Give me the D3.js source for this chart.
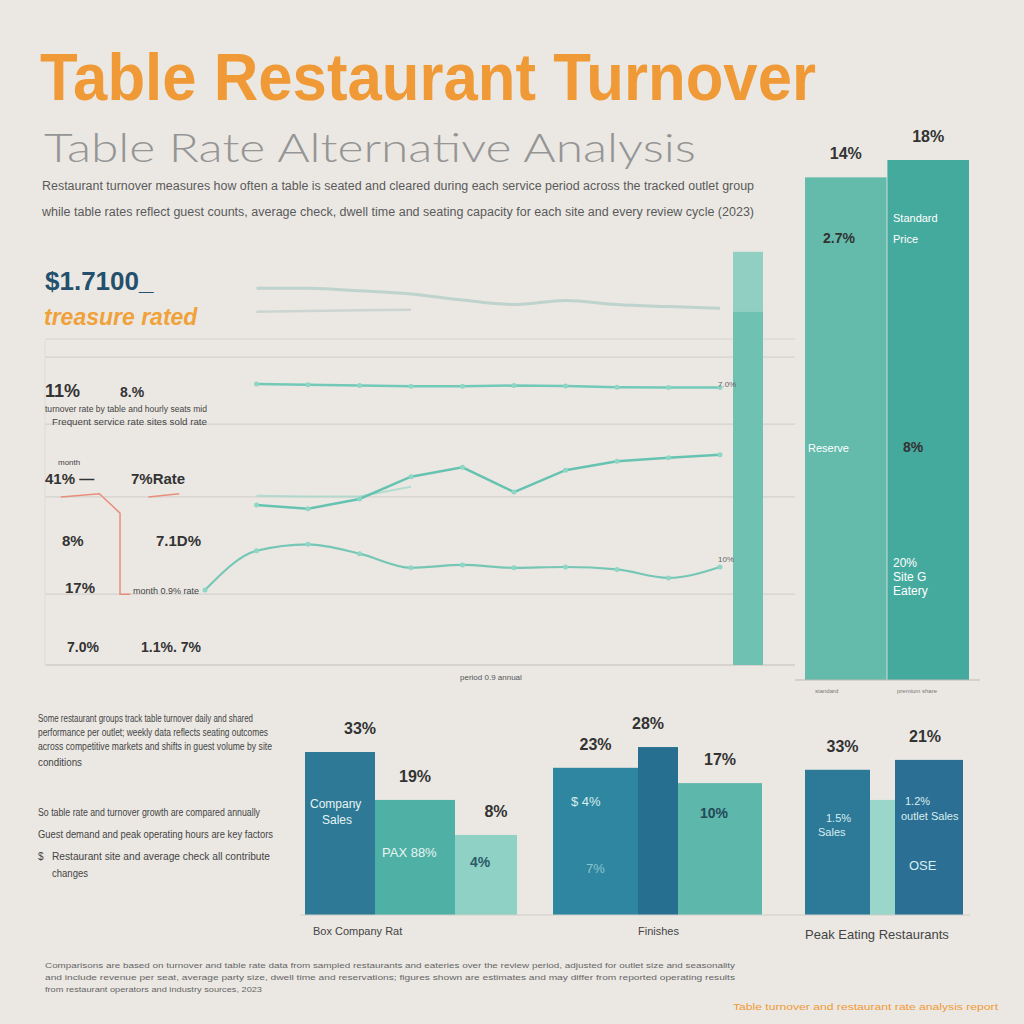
<!DOCTYPE html>
<html>
<head>
<meta charset="utf-8">
<script src="https://cdnjs.cloudflare.com/ajax/libs/d3/7.8.5/d3.min.js"></script>
<style>
  body { margin: 0; background: #ebe8e3; }
  text { font-family: "Liberation Sans", Arial, sans-serif; }
</style>
</head>
<body>
<div id="area1"></div>
<script>
// line chart data (period index, value)
var periods = [0, 2, 4, 6, 8, 10, 12, 14, 16, 18, 20];
var topLine = [null, 93.0, 93.0, 92.4, 91.6, 90.1, 89.0, 90.0, 89.0, 88.5, 88.1];
var topShadow = [null, 87.2, 87.4, 87.6, 87.7, null, null, null, null, null, null];
var flatLine = [null, 69.4, 69.2, 69.0, 68.8, 68.8, 69.0, 68.9, 68.6, 68.5, 68.5];
var waveLine = [null, 39.5, 38.6, 41.0, 46.5, 48.8, 42.7, 48.1, 50.3, 51.2, 51.9];
var waveShadow = [null, 41.8, 41.6, 41.6, 44.0, null, null, null, null, null, null];
var lowLine = [18.5, 28.2, 29.8, 27.5, 24.0, 24.7, 24.0, 24.2, 23.6, 21.5, 24.2];
var panelBar = 102;

// right side comparison bars
var sideCats = ["Standard", "Premium"];
var sideValues = [17.4, 18];
var sideLabels = ["14%", "18%"];

// bottom grouped bars
var groupNames = ["Box Company Rat", "Finishes", "Peak Eating Restaurants"];
var groupValues = [[33, 23.3, 16.2], [29.8, 34, 26.7], [29.4, 23.3, 31.4]];
var groupLabels = [["33%", "19%", "8%"], ["23%", "28%", "17%"], ["33%", "", "21%"]];
var groupColors = [["#2d7996", "#4fb0a5", "#8fd2c5"], ["#2f86a0", "#276f90", "#5db7ab"], ["#2c7998", "#9ad6ca", "#2b6f94"]];
var groupWidths = [[70, 80, 62], [85, 40, 84], [65, 25, 68]];

var width = 1024, height = 1024;

window.onload = function() {

  var svg = d3.select("#area1")
    .append("svg")
    .attr("width", width)
    .attr("height", height);

  svg.append("rect").attr("width", width).attr("height", height).attr("fill", "#ebe8e3");

  // title block
  svg.append("text").attr("x", 40).attr("y", 100)
    .attr("font-size", 66).attr("font-weight", "bold").attr("fill", "#ef9a36")
    .attr("textLength", 776).attr("lengthAdjust", "spacingAndGlyphs")
    .text("Table Restaurant Turnover");

  svg.append("text").attr("x", 44).attr("y", 162)
    .attr("font-size", 40).attr("font-weight", 300).attr("fill", "#959595")
    .style("font-family", "Lato, 'Open Sans', sans-serif")
    .attr("textLength", 652).attr("lengthAdjust", "spacingAndGlyphs")
    .text("Table Rate Alternative Analysis");

  var intro = [
    "Restaurant turnover measures how often a table is seated and cleared during each service period across the tracked outlet group",
    "while table rates reflect guest counts, average check, dwell time and seating capacity for each site and every review cycle (2023)"
  ];
  svg.selectAll(".intro").data(intro).enter().append("text")
    .attr("class", "intro")
    .attr("x", 42).attr("y", function(d, i) { return 190 + i * 26; })
    .attr("font-size", 12).attr("fill", "#5a5a5a")
    .attr("textLength", 712).attr("lengthAdjust", "spacingAndGlyphs")
    .text(function(d) { return d; });

  // line chart panel
  var x = d3.scaleLinear().domain([0, 20]).range([205, 720]);
  var y = d3.scaleLinear().domain([0, 100]).range([665, 260]);

  var gridVals = [80.5, 76, 59.5, 41.5, 17.5];
  svg.selectAll(".grid").data(gridVals).enter().append("line")
    .attr("x1", 45).attr("x2", 795)
    .attr("y1", function(d) { return y(d); }).attr("y2", function(d) { return y(d); })
    .attr("stroke", "#d4d2ce").attr("stroke-width", 1.2);

  svg.append("line").attr("x1", 45).attr("x2", 795).attr("y1", y(0)).attr("y2", y(0))
    .attr("stroke", "#cfcdc9").attr("stroke-width", 1.5);
  svg.append("line").attr("x1", 45).attr("x2", 45).attr("y1", y(80)).attr("y2", y(0))
    .attr("stroke", "#dedcd8");

  svg.append("rect")
    .attr("x", 733).attr("width", 30)
    .attr("y", y(panelBar)).attr("height", y(0) - y(panelBar))
    .attr("fill", "#6fc1b1");
  svg.append("rect")
    .attr("x", 733).attr("width", 30)
    .attr("y", y(panelBar)).attr("height", 60)
    .attr("fill", "#a9d9cf").attr("opacity", 0.6);

  var line = d3.line()
    .defined(function(d) { return d[1] !== null; })
    .x(function(d) { return x(d[0]); })
    .y(function(d) { return y(d[1]); });

  function zip(vals) { return periods.map(function(p, i) { return [p, vals[i]]; }); }

  var series = [
    { vals: topLine, color: "#b3cdc7", w: 3, op: 0.8, c: d3.curveMonotoneX },
    { vals: topShadow, color: "#c4cfcc", w: 2.5, op: 0.8, c: d3.curveLinear },
    { vals: flatLine, color: "#72c9b8", w: 2.5, op: 1, c: d3.curveLinear },
    { vals: waveShadow, color: "#a7d8cd", w: 2, op: 0.8, c: d3.curveLinear },
    { vals: waveLine, color: "#66c3b1", w: 2.5, op: 1, c: d3.curveLinear },
    { vals: lowLine, color: "#76c6b6", w: 2.2, op: 1, c: d3.curveMonotoneX }
  ];

  svg.selectAll(".series").data(series).enter().append("path")
    .attr("class", "series")
    .attr("d", function(d) { return line.curve(d.c)(zip(d.vals)); })
    .attr("fill", "none")
    .attr("stroke", function(d) { return d.color; })
    .attr("stroke-width", function(d) { return d.w; })
    .attr("opacity", function(d) { return d.op; });

  [flatLine, waveLine, lowLine].forEach(function(vals) {
    svg.selectAll(null).data(zip(vals).filter(function(d) { return d[1] !== null; })).enter()
      .append("circle")
      .attr("cx", function(d) { return x(d[0]); })
      .attr("cy", function(d) { return y(d[1]); })
      .attr("r", 2.5)
      .attr("fill", "#8fd6c6");
  });

  // red bracket on the left
  var bracket = [[-5.6, 41.5], [-4.1, 42.3], [-3.3, 37.5], [-3.3, 17.5], [-2.9, 17.5]];
  var bracket2 = [[-2.2, 41.5], [-1.0, 42.3]];
  var lineLin = d3.line().x(function(d) { return x(d[0]); }).y(function(d) { return y(d[1]); });
  [bracket, bracket2].forEach(function(b) {
    svg.append("path").attr("d", lineLin(b)).attr("fill", "none")
      .attr("stroke", "#e88e7c").attr("stroke-width", 1.5);
  });

  // left annotations
  svg.append("text").attr("x", 45).attr("y", 290).attr("font-size", 26).attr("font-weight", "bold")
    .attr("fill", "#24506e").text("$1.7100_");
  svg.append("text").attr("x", 44).attr("y", 325).attr("font-size", 23).attr("font-weight", "bold")
    .attr("font-style", "italic").attr("fill", "#f0a23a").text("treasure rated");

  var notes = [
    { t: "11%", x: 45, y: 397, s: 18, c: "#333" },
    { t: "8.%", x: 120, y: 397, s: 14, c: "#333" },
    { t: "turnover rate by table and hourly seats mid", x: 45, y: 412, s: 8.5, c: "#444", l: 162 },
    { t: "Frequent service rate  sites  sold rate", x: 52, y: 425, s: 8.5, c: "#444", l: 155 },
    { t: "month", x: 58, y: 465, s: 8, c: "#444" },
    { t: "41% \u2014", x: 45, y: 484, s: 15, c: "#333" },
    { t: "7%Rate", x: 131, y: 484, s: 15, c: "#333" },
    { t: "8%", x: 62, y: 546, s: 15, c: "#333" },
    { t: "7.1D%", x: 156, y: 546, s: 15, c: "#333" },
    { t: "17%", x: 65, y: 593, s: 15, c: "#333" },
    { t: "month 0.9% rate", x: 133, y: 594, s: 9, c: "#444" },
    { t: "7.0%", x: 67, y: 652, s: 14, c: "#333" },
    { t: "1.1%. 7%", x: 141, y: 652, s: 14, c: "#333" },
    { t: "period  0.9 annual", x: 460, y: 680, s: 8, c: "#555" },
    { t: "7.0%", x: 718, y: 387, s: 8, c: "#666" },
    { t: "10%", x: 718, y: 562, s: 8, c: "#666" }
  ];
  svg.selectAll(".note").data(notes).enter().append("text")
    .attr("class", "note")
    .attr("x", function(d) { return d.x; }).attr("y", function(d) { return d.y; })
    .attr("font-size", function(d) { return d.s; })
    .attr("fill", function(d) { return d.c; })
    .attr("font-weight", function(d) { return d.s > 12 ? "bold" : "normal"; })
    .each(function(d) {
      if (d.l) d3.select(this).attr("textLength", d.l).attr("lengthAdjust", "spacingAndGlyphs");
    })
    .text(function(d) { return d.t; });

  // right comparison bars
  var sx = d3.scaleBand().domain(sideCats).range([805, 969]).paddingInner(0.01);
  var sy = d3.scaleLinear().domain([0, 18]).range([680, 160]);
  var sideColors = ["#64bbac", "#45aa9e"];
  svg.selectAll(".side").data(sideValues).enter().append("rect")
    .attr("class", "side")
    .attr("x", function(d, i) { return sx(sideCats[i]); })
    .attr("width", sx.bandwidth())
    .attr("y", function(d) { return sy(d); })
    .attr("height", function(d) { return 680 - sy(d); })
    .attr("fill", function(d, i) { return sideColors[i]; });
  svg.selectAll(".sideLab").data(sideLabels).enter().append("text")
    .attr("x", function(d, i) { return sx(sideCats[i]) + sx.bandwidth() / 2; })
    .attr("y", function(d, i) { return sy(sideValues[i]) - 18; })
    .attr("text-anchor", "middle").attr("font-size", 16).attr("font-weight", "bold")
    .attr("fill", "#333").text(function(d) { return d; });
  svg.append("line").attr("x1", 795).attr("x2", 980).attr("y1", 680).attr("y2", 680)
    .attr("stroke", "#bdbbb7");

  var sideNotes = [
    { t: "2.7%", x: 823, y: 243, c: "#333", s: 14, b: true },
    { t: "Standard", x: 893, y: 222, c: "#fff", s: 11 },
    { t: "Price", x: 893, y: 243, c: "#fff", s: 11 },
    { t: "Reserve", x: 808, y: 452, c: "#fff", s: 11 },
    { t: "8%", x: 903, y: 452, c: "#333", s: 14, b: true },
    { t: "20%", x: 893, y: 567, c: "#fff", s: 12 },
    { t: "Site G", x: 893, y: 581, c: "#fff", s: 12 },
    { t: "Eatery", x: 893, y: 595, c: "#fff", s: 12 },
    { t: "standard", x: 815, y: 693, c: "#777", s: 6 },
    { t: "premium share", x: 897, y: 693, c: "#777", s: 6 }
  ];
  svg.selectAll(".sideNote").data(sideNotes).enter().append("text")
    .attr("x", function(d) { return d.x; }).attr("y", function(d) { return d.y; })
    .attr("font-size", function(d) { return d.s; })
    .attr("font-weight", function(d) { return d.b ? "bold" : "normal"; })
    .attr("fill", function(d) { return d.c; }).text(function(d) { return d.t; });

  // bottom grouped bars
  var gx = [305, 553, 805];
  var gy = d3.scaleLinear().domain([0, 33]).range([915, 752]);
  var labShift = [[20, 0, 10], [0, -10, 0], [5, 0, -4]];
  groupValues.forEach(function(vals, g) {
    var offs = [0];
    groupWidths[g].forEach(function(w, i) { offs.push(offs[i] + w); });
    var grp = svg.append("g").attr("transform", "translate(" + gx[g] + ",0)");
    grp.selectAll("rect").data(vals).enter().append("rect")
      .attr("x", function(d, i) { return offs[i]; })
      .attr("width", function(d, i) { return groupWidths[g][i]; })
      .attr("y", function(d) { return gy(d); })
      .attr("height", function(d) { return 915 - gy(d); })
      .attr("fill", function(d, i) { return groupColors[g][i]; });
    grp.selectAll(".lab").data(vals).enter().append("text")
      .attr("x", function(d, i) { return offs[i] + groupWidths[g][i] / 2 + labShift[g][i]; })
      .attr("y", function(d) { return gy(d) - 18; })
      .attr("text-anchor", "middle").attr("font-size", 16).attr("font-weight", "bold")
      .attr("fill", "#333").text(function(d, i) { return groupLabels[g][i]; });
  });
  svg.append("line").attr("x1", 300).attr("x2", 970).attr("y1", 915).attr("y2", 915)
    .attr("stroke", "#cfcdc9");

  var inner = [
    { t: "Company", x: 310, y: 808, c: "#e8f4f3", s: 12 },
    { t: "Sales", x: 322, y: 824, c: "#e8f4f3", s: 12 },
    { t: "PAX 88%", x: 382, y: 857, c: "#e8f4f3", s: 13 },
    { t: "4%", x: 470, y: 867, c: "#2d5a6a", s: 14, b: true },
    { t: "$ 4%", x: 571, y: 806, c: "#d8eeee", s: 13 },
    { t: "7%", x: 586, y: 873, c: "#8cc4cc", s: 13 },
    { t: "10%", x: 700, y: 818, c: "#24485a", s: 14, b: true },
    { t: "1.5%", x: 826, y: 822, c: "#d8eeee", s: 11 },
    { t: "Sales", x: 818, y: 836, c: "#d8eeee", s: 11 },
    { t: "1.2%", x: 905, y: 805, c: "#d8eeee", s: 11 },
    { t: "outlet Sales", x: 901, y: 820, c: "#d8eeee", s: 11 },
    { t: "OSE", x: 909, y: 870, c: "#d8eeee", s: 13 }
  ];
  svg.selectAll(".inner").data(inner).enter().append("text")
    .attr("x", function(d) { return d.x; }).attr("y", function(d) { return d.y; })
    .attr("font-size", function(d) { return d.s; })
    .attr("font-weight", function(d) { return d.b ? "bold" : "normal"; })
    .attr("fill", function(d) { return d.c; }).text(function(d) { return d.t; });

  var catPos = [[313, 935], [638, 935], [805, 939]];
  svg.selectAll(".cat").data(groupNames).enter().append("text")
    .attr("x", function(d, i) { return catPos[i][0]; }).attr("y", function(d, i) { return catPos[i][1]; })
    .attr("font-size", function(d, i) { return i === 2 ? 13 : 11; })
    .attr("fill", "#444").text(function(d) { return d; });

  // left text block
  var block = [
    { t: "Some restaurant groups track table turnover daily and shared", y: 722, l: 215 },
    { t: "performance per outlet; weekly data reflects seating outcomes", y: 736, l: 230 },
    { t: "across competitive markets and shifts in guest volume by site", y: 750, l: 234 },
    { t: "conditions", y: 766, l: 44 },
    { t: "So table rate and turnover growth are compared annually", y: 816, l: 222 },
    { t: "Guest demand and peak operating hours are key factors", y: 838, l: 235 },
    { t: "Restaurant site and average check all contribute", y: 860, l: 218, x: 52 },
    { t: "changes", y: 877, l: 36, x: 52 }
  ];
  svg.selectAll(".block").data(block).enter().append("text")
    .attr("x", function(d) { return d.x || 38; }).attr("y", function(d) { return d.y; })
    .attr("font-size", 10).attr("fill", "#444")
    .attr("textLength", function(d) { return d.l; }).attr("lengthAdjust", "spacingAndGlyphs")
    .text(function(d) { return d.t; });
  svg.append("text").attr("x", 38).attr("y", 860).attr("font-size", 10).attr("fill", "#444").text("$");

  // footer
  var foot = [
    "Comparisons are based on turnover and table rate data from sampled restaurants and eateries over the review period, adjusted for outlet size and seasonality",
    "and include revenue per seat, average party size, dwell time and reservations; figures shown are estimates and may differ from reported operating results",
    "from restaurant operators and industry sources, 2023"
  ];
  svg.selectAll(".foot").data(foot).enter().append("text")
    .attr("x", 45).attr("y", function(d, i) { return 968 + i * 12; })
    .attr("font-size", 8).attr("fill", "#666")
    .attr("textLength", function(d, i) { return i === 2 ? 217 : 690; })
    .attr("lengthAdjust", "spacingAndGlyphs")
    .text(function(d) { return d; });
  svg.append("text").attr("x", 733).attr("y", 1010).attr("font-size", 9).attr("fill", "#ef9a36")
    .attr("textLength", 265).attr("lengthAdjust", "spacingAndGlyphs")
    .text("Table turnover and restaurant rate analysis report");
};
</script>
</body>
</html>
